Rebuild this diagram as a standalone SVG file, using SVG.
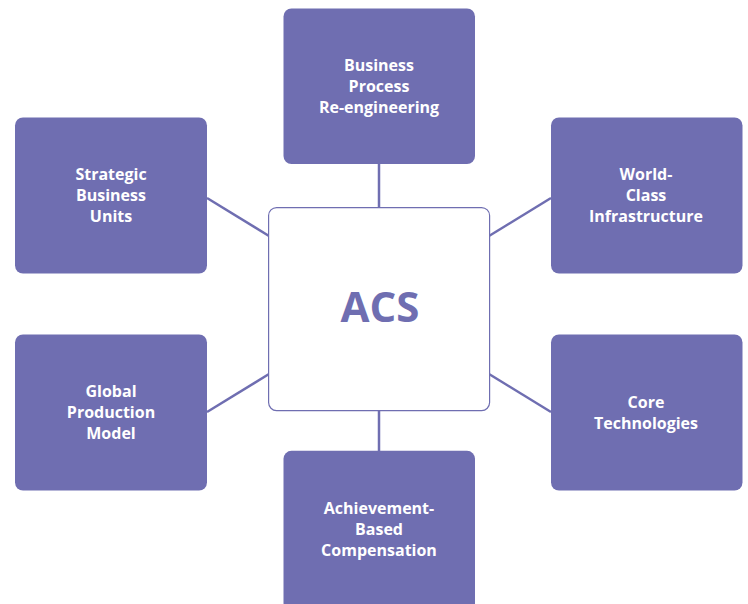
<svg xmlns="http://www.w3.org/2000/svg" width="748" height="604" viewBox="0 0 748 604">
<style>
.box{fill:#6f6eb1;}
.lbl{fill:#ffffff;font-family:"Open Sans","Liberation Sans",sans-serif;font-weight:700;font-size:16px;text-anchor:middle;}
.con{stroke:#6f6eb1;stroke-width:2.5;fill:none;}
.hub{fill:#ffffff;stroke:#6f6eb1;stroke-width:1.2;}
.hubtxt{fill:#6f6eb1;font-family:"Open Sans","Liberation Sans",sans-serif;font-weight:700;font-size:42px;text-anchor:middle;}
</style>
<rect width="748" height="604" fill="#ffffff"/>
<g id="connectors">
<line class="con" x1="379" y1="164" x2="379" y2="208"/>
<line class="con" x1="379" y1="410" x2="379" y2="451"/>
<line class="con" x1="207" y1="198" x2="269" y2="236"/>
<line class="con" x1="489" y1="236" x2="551" y2="198"/>
<line class="con" x1="207" y1="412" x2="269" y2="374"/>
<line class="con" x1="489" y1="374" x2="551" y2="412"/>
</g>
<g id="acs">
<rect class="hub" x="268.6" y="207.6" width="221" height="203" rx="8"/>
<text class="hubtxt" x="380" y="322">ACS</text>
</g>
<g id="bpr">
<rect class="box" x="283.5" y="8.5" width="191.5" height="155.5" rx="8"/>
<text class="lbl" x="379" y="71">Business</text>
<text class="lbl" x="379" y="92">Process</text>
<text class="lbl" x="379" y="113">Re-engineering</text>
</g>
<g id="sbu">
<rect class="box" x="15" y="117.5" width="192" height="156" rx="8"/>
<text class="lbl" x="111" y="180">Strategic</text>
<text class="lbl" x="111" y="201">Business</text>
<text class="lbl" x="111" y="222">Units</text>
</g>
<g id="wci">
<rect class="box" x="551" y="117.5" width="191.5" height="156" rx="8"/>
<text class="lbl" x="646" y="180">World-</text>
<text class="lbl" x="646" y="201">Class</text>
<text class="lbl" x="646" y="222">Infrastructure</text>
</g>
<g id="gpm">
<rect class="box" x="15" y="334.5" width="192" height="156" rx="8"/>
<text class="lbl" x="111" y="397">Global</text>
<text class="lbl" x="111" y="418">Production</text>
<text class="lbl" x="111" y="439">Model</text>
</g>
<g id="ct">
<rect class="box" x="551" y="334.5" width="191.5" height="156" rx="8"/>
<text class="lbl" x="646" y="408">Core</text>
<text class="lbl" x="646" y="429">Technologies</text>
</g>
<g id="abc">
<rect class="box" x="283.5" y="450.8" width="191.5" height="160" rx="8"/>
<text class="lbl" x="379" y="514">Achievement-</text>
<text class="lbl" x="379" y="535">Based</text>
<text class="lbl" x="379" y="556">Compensation</text>
</g>
</svg>
